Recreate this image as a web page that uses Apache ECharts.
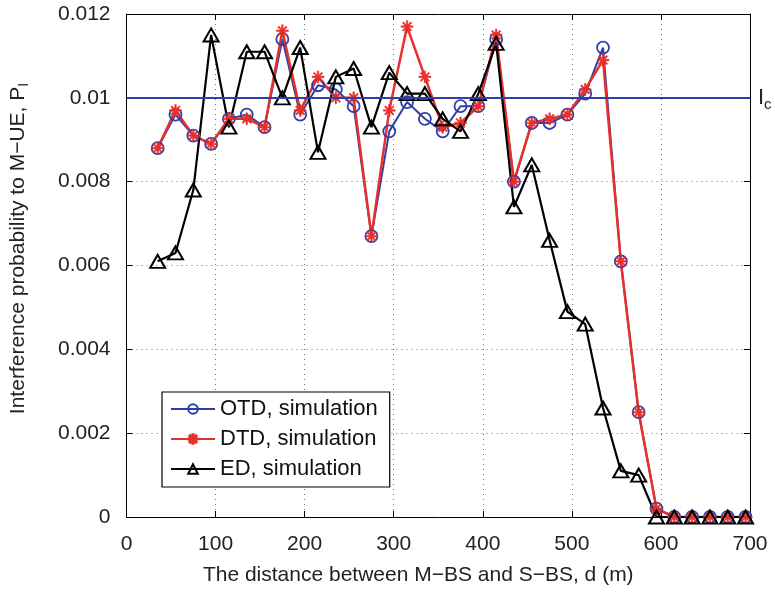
<!DOCTYPE html>
<html><head><meta charset="utf-8">
<script src="https://cdn.jsdelivr.net/npm/echarts@6/dist/echarts.min.js"></script>
<style>html,body{margin:0;padding:0;background:#fff}#c{width:775px;height:592px}</style>
</head><body><div id="c"></div>
<script>
const distances = [35,55,75,95,115,135,155,175,195,215,235,255,275,295,315,335,355,375,395,415,435,455,475,495,515,535,555,575,595,615,635,655,675,695];
const otd = [0.0088,0.0096,0.0091,0.0089,0.0095,0.0096,0.0093,0.0114,0.0096,0.0103,0.0102,0.0098,0.0067,0.0092,0.0099,0.0095,0.0092,0.0098,0.0098,0.0114,0.0080,0.0094,0.0094,0.0096,0.0101,0.0112,0.0061,0.0025,0.0002,0,0,0,0,0];
const dtd = [0.0088,0.0097,0.0091,0.0089,0.0095,0.0095,0.0093,0.0116,0.0097,0.0105,0.0100,0.0100,0.0067,0.0097,0.0117,0.0105,0.0093,0.0094,0.0098,0.0115,0.0080,0.0094,0.0095,0.0096,0.0102,0.0109,0.0061,0.0025,0.0002,0,0,0,0,0];
const ed = [0.0061,0.0063,0.0078,0.0115,0.0093,0.0111,0.0111,0.0100,0.0112,0.0087,0.0105,0.0107,0.0093,0.0106,0.0101,0.0101,0.0095,0.0092,0.0101,0.0113,0.0074,0.0084,0.0066,0.0049,0.0046,0.0026,0.0011,0.0010,0,0,0,0,0,0];
const icLevel = 0.01;
const seriesNames = ['OTD, simulation','DTD, simulation','ED, simulation'];

const BLUE = '#2f3fa8', RED = '#e8302a', BLACK = '#000';
const FONT = 'Liberation Sans';
const FS = 21;
const asterisk = 'path://M-1.3,-10L1.3,-10L1.3,10L-1.3,10ZM-10,-1.3L10,-1.3L10,1.3L-10,1.3ZM-7.9,-6.1L-6.1,-7.9L7.9,6.1L6.1,7.9ZM6.1,-7.9L7.9,-6.1L-6.1,7.9L-7.9,6.1Z';
const pairs = a => distances.map((d,i)=>[d,a[i]]);

const chart = echarts.init(document.getElementById('c'), null, {renderer:'canvas'});
const axisCommon = {
  axisLine:{show:true,onZero:false,lineStyle:{color:'#000',width:1}},
  axisTick:{show:true,inside:true,length:6,lineStyle:{color:'#000'}},
};
chart.setOption({
  animation:false,
  backgroundColor:'#fff',
  grid:{left:120,right:25,top:14,bottom:75},
  legend:{
    orient:'vertical', left:162, top:392,
    backgroundColor:'#fff', borderColor:'#000', borderWidth:1.2,
    padding:[6,12,7,8], itemGap:8, itemWidth:44, itemHeight:12,
    textStyle:{fontFamily:FONT,fontSize:22,color:'#111'},
    data:seriesNames
  },
  xAxis:[
    Object.assign({type:'value',min:0,max:700,interval:100,position:'bottom',
      name:'The distance between M\u2212BS and S\u2212BS, d (m)',nameLocation:'middle',nameGap:48,
      nameTextStyle:{fontFamily:FONT,fontSize:FS,color:'#222',padding:[0,40,0,0]},
      axisLabel:{fontFamily:FONT,fontSize:FS,color:'#222',margin:17},
      splitLine:{show:true,lineStyle:{type:[1,4],color:'#777'}}},axisCommon),
    Object.assign({type:'value',min:0,max:700,interval:100,position:'top',
      axisLabel:{show:false},splitLine:{show:false}},axisCommon)
  ],
  yAxis:[
    Object.assign({type:'value',min:0,max:0.012,interval:0.002,position:'left',
      name:'{a|Interference probability to M\u2212UE, P}{s|I}',nameLocation:'middle',nameGap:95,
      nameTextStyle:{padding:[0,0,0,34],rich:{a:{fontFamily:FONT,fontSize:FS,color:'#222'},s:{fontFamily:FONT,fontSize:14,color:'#222',padding:[12,0,0,0]}}},
      axisLabel:{fontFamily:FONT,fontSize:FS,color:'#222',margin:16},
      splitLine:{show:true,lineStyle:{type:[1,4],color:'#777'}}},axisCommon),
    Object.assign({type:'value',min:0,max:0.012,interval:0.002,position:'right',
      axisLabel:{show:false},splitLine:{show:false}},axisCommon)
  ],
  series:[
    {name:seriesNames[0],type:'line',data:pairs(otd),symbol:'circle',symbolSize:12,
     lineStyle:{color:BLUE,width:2},
     itemStyle:{color:'rgba(0,0,0,0)',borderColor:BLUE,borderWidth:1.8},
     markLine:{silent:true,symbol:'none',
       lineStyle:{color:BLUE,width:2,type:'solid'},
       label:{show:true,position:'end',distance:8,formatter:'{a|I}{s|c}',
         rich:{a:{fontFamily:FONT,fontSize:22,color:'#222'},s:{fontFamily:FONT,fontSize:15,color:'#222',padding:[14,0,0,0]}}},
       data:[[{coord:[0,icLevel]},{coord:[700,icLevel]}]]}},
    {name:seriesNames[1],type:'line',data:pairs(dtd),symbol:asterisk,symbolSize:12,
     lineStyle:{color:RED,width:2.5},
     itemStyle:{color:RED,borderColor:RED,borderWidth:0.5}},
    {name:seriesNames[2],type:'line',data:pairs(ed),symbol:'triangle',symbolSize:[15,13],
     lineStyle:{color:BLACK,width:2.2},
     itemStyle:{color:'rgba(0,0,0,0)',borderColor:BLACK,borderWidth:2}}
  ]
});
</script></body></html>
